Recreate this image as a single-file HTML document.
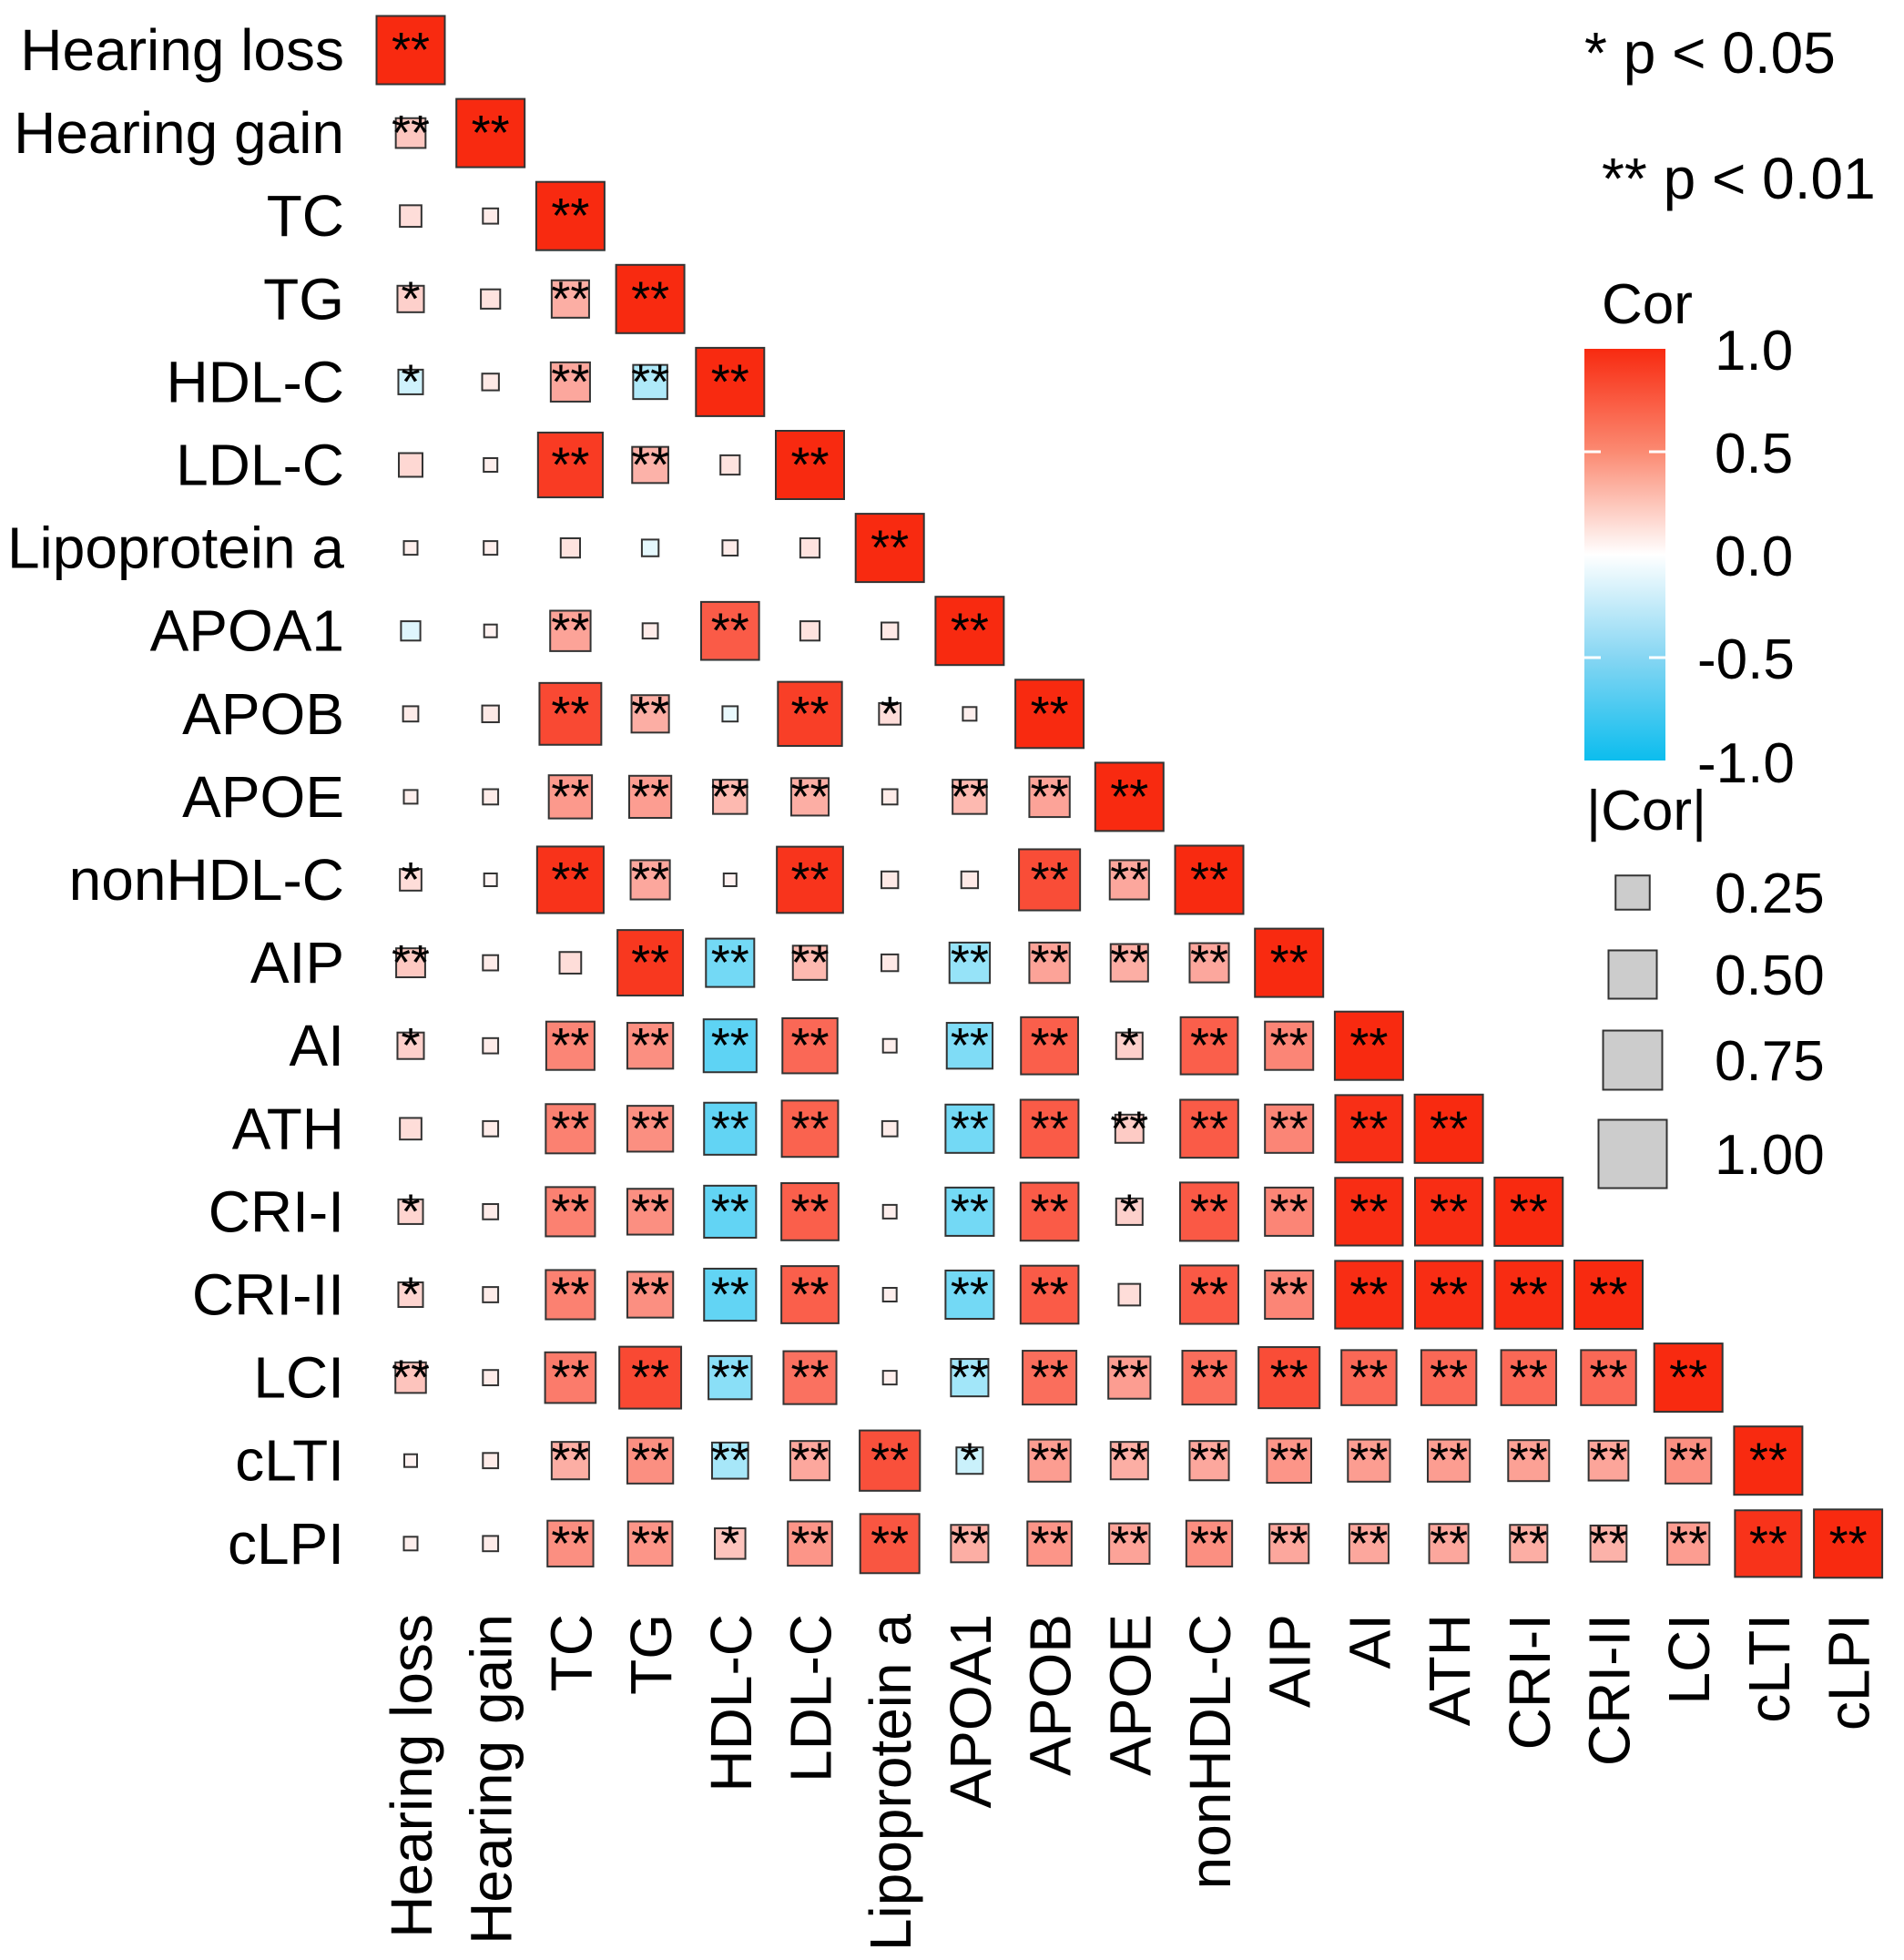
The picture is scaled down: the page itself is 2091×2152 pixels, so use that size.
<!DOCTYPE html>
<html><head><meta charset="utf-8"><style>
html,body{margin:0;padding:0;background:#fff}
svg{display:block;font-family:"Liberation Sans",sans-serif}
</style></head><body>
<svg id="chart" width="2091" height="2152" viewBox="0 0 2091 2152" xmlns="http://www.w3.org/2000/svg">
<defs>
<linearGradient id="cbar" x1="0" y1="0" x2="0" y2="1">
<stop offset="0" stop-color="#F82A10"/><stop offset="0.25" stop-color="#FB8A72"/><stop offset="0.5" stop-color="#FFFFFF"/><stop offset="0.75" stop-color="#86D6F3"/><stop offset="1" stop-color="#0CBDEE"/>
</linearGradient>
</defs>
<g id="cells"></g>
<g id="labels"></g>
<g font-size="64" fill="#000">
<text x="1740" y="80">* p &lt; 0.05</text>
<text x="1759" y="218">** p &lt; 0.01</text>
</g>
<g font-size="62">
<text x="1759" y="355">Cor</text>
<rect x="1740" y="383" width="89" height="452" fill="url(#cbar)"/>
<g stroke="#fff" stroke-width="3">
<line x1="1740" x2="1758" y1="496" y2="496"/><line x1="1811" x2="1829" y1="496" y2="496"/>
<line x1="1740" x2="1758" y1="722" y2="722"/><line x1="1811" x2="1829" y1="722" y2="722"/>
</g>
<text x="1883" y="406">1.0</text>
<text x="1883" y="519">0.5</text>
<text x="1883" y="632">0.0</text>
<text x="1864" y="745">-0.5</text>
<text x="1864" y="859">-1.0</text>
</g>
<g id="sizeleg" font-size="62">
<text x="1742" y="911">|Cor|</text>
</g>
</svg>
<script>
const labels=["Hearing loss","Hearing gain","TC","TG","HDL-C","LDL-C","Lipoprotein a","APOA1","APOB","APOE","nonHDL-C","AIP","AI","ATH","CRI-I","CRI-II","LCI","cLTI","cLPI"];
const corRows=[
[],
[0.19],
[0.10,0.05],
[0.15,0.08,0.30],
[-0.13,0.06,0.33,-0.25],
[0.12,0.04,0.90,0.28,0.08],
[0.04,0.04,0.08,-0.06,0.05,0.08],
[-0.08,0.03,0.35,0.05,0.72,0.08,0.06],
[0.05,0.06,0.82,0.30,-0.05,0.88,0.10,0.04],
[0.04,0.05,0.40,0.38,0.25,0.30,0.05,0.25,0.35],
[0.10,0.02,0.95,0.33,0.03,0.94,0.06,0.06,0.80,0.33],
[0.18,0.05,0.10,0.92,-0.50,0.25,0.06,-0.35,0.35,0.30,0.33],
[0.15,0.05,0.50,0.45,-0.60,0.65,0.04,-0.45,0.70,0.15,0.70,0.50],
[0.10,0.05,0.52,0.45,-0.58,0.68,0.05,-0.50,0.72,0.17,0.72,0.50,0.97],
[0.13,0.05,0.52,0.45,-0.58,0.70,0.04,-0.50,0.72,0.15,0.73,0.50,0.98,0.98],
[0.13,0.05,0.52,0.45,-0.58,0.70,0.04,-0.50,0.72,0.10,0.73,0.50,0.98,0.98,0.99],
[0.20,0.05,0.55,0.82,-0.40,0.60,0.04,-0.30,0.62,0.38,0.62,0.80,0.65,0.65,0.65,0.65],
[0.03,0.05,0.30,0.45,-0.28,0.33,0.78,-0.15,0.38,0.30,0.33,0.42,0.38,0.38,0.36,0.34,0.45],
[0.04,0.05,0.45,0.42,0.20,0.42,0.75,0.30,0.42,0.35,0.45,0.33,0.33,0.33,0.30,0.28,0.38,0.95]
];
const sigRows=[
[],
["**"],
["",""],
["*","","**"],
["*","","**","**"],
["","","**","**",""],
["","","","","",""],
["","","**","","**","",""],
["","","**","**","","**","*",""],
["","","**","**","**","**","","**","**"],
["*","","**","**","","**","","","**","**"],
["**","","","**","**","**","","**","**","**","**"],
["*","","**","**","**","**","","**","**","*","**","**"],
["","","**","**","**","**","","**","**","**","**","**","**"],
["*","","**","**","**","**","","**","**","*","**","**","**","**"],
["*","","**","**","**","**","","**","**","","**","**","**","**","**"],
["**","","**","**","**","**","","**","**","**","**","**","**","**","**","**"],
["","","**","**","**","**","**","*","**","**","**","**","**","**","**","**","**"],
["","","**","**","*","**","**","**","**","**","**","**","**","**","**","**","**","**"]
];
const sizeLegendVals=[0.25,0.50,0.75,1.00];
const sizeLegendText=["0.25","0.50","0.75","1.00"];
const NS="http://www.w3.org/2000/svg";
const x0=451, dx=87.7, y0=55, dy=91.1, full=75;
const xc=j=>x0+j*dx, yc=i=>y0+i*dy, side=r=>Math.max(14,full*Math.sqrt(Math.abs(r)));
function color(r){
  const t=Math.pow(Math.min(1,Math.abs(r)),0.8);
  let c= r>=0 ? [248,42,16] : [12,189,238];
  const m=c.map(v=>Math.round(255+(v-255)*t));
  return `rgb(${m[0]},${m[1]},${m[2]})`;
}
function mk(tag,attrs,parent){const e=document.createElementNS(NS,tag);for(const k in attrs)e.setAttribute(k,attrs[k]);parent.appendChild(e);return e;}
const cells=document.getElementById('cells');
for(let i=0;i<labels.length;i++){
  const row=corRows[i].concat([1]);
  const sig=sigRows[i].concat(["**"]);
  for(let j=0;j<=i;j++){
    const r=row[j], s=side(r);
    const rect=mk('rect',{x:xc(j)-s/2,y:yc(i)-s/2,width:s,height:s,fill:color(r),stroke:'#333',"stroke-width":2},cells);
    
    
    if(sig[j]){
      const t=mk('text',{x:xc(j),y:yc(i)+18,"text-anchor":"middle","font-size":54,fill:"#000"},cells);
      t.textContent=sig[j];
      
      
    }
  }
}
const lab=document.getElementById('labels');
labels.forEach((l,i)=>{
  const t=mk('text',{x:378,y:yc(i)+22,"text-anchor":"end","font-size":64},lab);
  t.textContent=l;
  
  
  const c=mk('text',{x:0,y:0,"text-anchor":"end","font-size":64,transform:`translate(${xc(i)+23},1772) rotate(-90)`},lab);
  c.textContent=l;
  
  
});
const sl=document.getElementById('sizeleg');
const sy=[980,1070,1164,1267];
sizeLegendVals.forEach((v,k)=>{
  const s=side(v);
  const r=mk('rect',{x:1793-s/2,y:sy[k]-s/2,width:s,height:s,fill:'#CCCCCC',stroke:'#333',"stroke-width":2},sl);
  
  
  const t=mk('text',{x:1883,y:sy[k]+22,"font-size":62},sl);
  t.textContent=sizeLegendText[k];
  
  
});
</script>
</body></html>
